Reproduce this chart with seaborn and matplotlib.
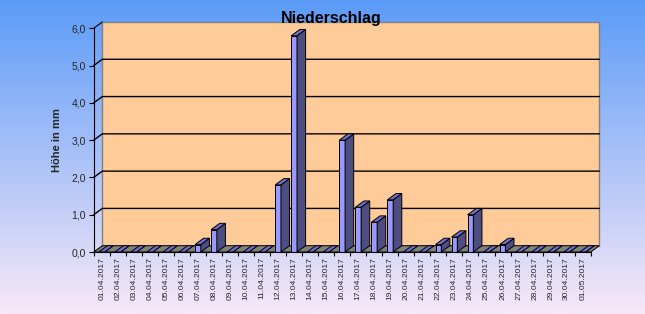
import numpy as np
import pandas as pd
import matplotlib
matplotlib.use("Agg")
import matplotlib.pyplot as plt
import seaborn as sns
from matplotlib.patches import Polygon
from matplotlib.lines import Line2D

dates = ["01.04.2017", "02.04.2017", "03.04.2017", "04.04.2017", "05.04.2017",
         "06.04.2017", "07.04.2017", "08.04.2017", "09.04.2017", "10.04.2017",
         "11.04.2017", "12.04.2017", "13.04.2017", "14.04.2017", "15.04.2017",
         "16.04.2017", "17.04.2017", "18.04.2017", "19.04.2017", "20.04.2017",
         "21.04.2017", "22.04.2017", "23.04.2017", "24.04.2017", "25.04.2017",
         "26.04.2017", "27.04.2017", "28.04.2017", "29.04.2017", "30.04.2017",
         "01.05.2017"]
values = [0.0, 0.0, 0.0, 0.0, 0.0, 0.0, 0.2, 0.6, 0.0, 0.0,
          0.0, 1.8, 5.8, 0.0, 0.0, 3.0, 1.2, 0.8, 1.4, 0.0,
          0.0, 0.2, 0.4, 1.0, 0.0, 0.2, 0.0, 0.0, 0.0, 0.0, 0.0]
yticks = [0, 1, 2, 3, 4, 5, 6]
ytick_labels = ["0,0", "1,0", "2,0", "3,0", "4,0", "5,0", "6,0"]
title = "Niederschlag"
ylabel = "Höhe in mm"

sns.set_theme(style="white")
plt.rcParams['font.family'] = ['Liberation Sans', 'DejaVu Sans']

W, H = 645, 314
fig = plt.figure(figsize=(W / 100, H / 100), dpi=100)

# background gradient
bg = fig.add_axes([0, 0, 1, 1], zorder=0)
g = np.linspace(0, 1, 256)[:, None, None]
c_top = np.array([0x5B, 0x9B, 0xF7]) / 255
c_bot = np.array([0xF8, 0xE8, 0xF8]) / 255
img = c_top[None, None, :] * (1 - g) + c_bot[None, None, :] * g
img = np.repeat(img, 2, axis=1)
bg.imshow(img, aspect='auto', extent=[0, 1, 0, 1])
bg.axis('off')

# front plane of the 3D chart (pixels from top-left)
L, R, B, T = 93.7, 590.7, 252.0, 28.3
ax = fig.add_axes([L / W, (H - B) / H, (R - L) / W, (B - T) / H], zorder=1)
ax.set_facecolor('none')

df = pd.DataFrame({'date': dates, 'value': values})
sns.barplot(data=df, x='date', y='value', color='#9999FF', saturation=1,
            width=0.36, edgecolor='black', linewidth=0.7, errorbar=None,
            ax=ax, zorder=3)

n = len(dates)
ax.set_xlim(-0.5, n - 0.5)
ax.set_ylim(0, 6)

DX, DY = 8.6, 6.3
dxd = DX / ((R - L) / n)
dyd = DY / ((B - T) / 6)
x0, x1 = -0.5, n - 0.5

# back wall
ax.add_patch(Polygon([(x0 + dxd, dyd), (x1 + dxd, dyd), (x1 + dxd, 6 + dyd), (x0 + dxd, 6 + dyd)],
                     closed=True, facecolor='#FFCC99', edgecolor='#808080', lw=1.0,
                     zorder=0.5, clip_on=False))
# gridlines + connectors
for yv in yticks:
    if 0 < yv < 6:
        ax.add_line(Line2D([x0, x0 + dxd, x1 + dxd], [yv, yv + dyd, yv + dyd],
                           color='black', lw=1.0, zorder=0.6, clip_on=False))
    elif yv == 6:
        ax.add_line(Line2D([x0, x0 + dxd], [yv, yv + dyd], color='black', lw=0.8,
                           zorder=0.6, clip_on=False))
# floor
ax.add_patch(Polygon([(x0, 0), (x1, 0), (x1 + dxd, dyd), (x0 + dxd, dyd)], closed=True,
                     facecolor='#808080', edgecolor='black', lw=0.7, zorder=0.7, clip_on=False))

# 3D faces of bars
for p in list(ax.patches):
    if not hasattr(p, 'get_width') or p.get_zorder() != 3:
        continue
    bx, bw, bh = p.get_x(), p.get_width(), p.get_height()
    ax.add_patch(Polygon([(bx + bw, 0), (bx + bw + dxd, dyd), (bx + bw + dxd, bh + dyd), (bx + bw, bh)],
                         closed=True, facecolor='#4D4D80', edgecolor='black', lw=0.7,
                         zorder=3.1, clip_on=False))
    ax.add_patch(Polygon([(bx, bh), (bx + bw, bh), (bx + bw + dxd, bh + dyd), (bx + dxd, bh + dyd)],
                         closed=True, facecolor='#7070CC', edgecolor='black', lw=0.7,
                         zorder=3.2, clip_on=False))

# axes styling
for s in ['top', 'right']:
    ax.spines[s].set_visible(False)
for s in ['left', 'bottom']:
    ax.spines[s].set_color('black')
    ax.spines[s].set_linewidth(0.8)
    ax.spines[s].set_zorder(4)

ax.set_xticks(range(n))
ax.set_xticklabels(dates)
ax.set_xticks(np.arange(-0.5, n, 1.0), minor=True)
ax.tick_params(axis='x', which='major', length=0, pad=3.6, labelsize=6.1, rotation=90,
               bottom=True)
ax.tick_params(axis='x', which='minor', length=3, width=0.8, direction='out',
               color='black', bottom=True)
ax.set_yticks(yticks)
ax.set_yticklabels(ytick_labels)
ax.tick_params(axis='y', which='major', length=3.5, width=0.8, direction='out',
               color='black', labelsize=7.5, pad=2, left=True)
ax.set_xlabel('')
ax.set_ylabel(ylabel, fontweight='bold', fontsize=8)
ax.yaxis.set_label_coords(-0.063, 0.5)
ax.grid(False)

fig.text(331 / W, 1 - 23.5 / H, title, ha='center', va='baseline',
         fontsize=11.5, fontweight='bold', color='black')

fig.savefig('out.png', dpi=100)
